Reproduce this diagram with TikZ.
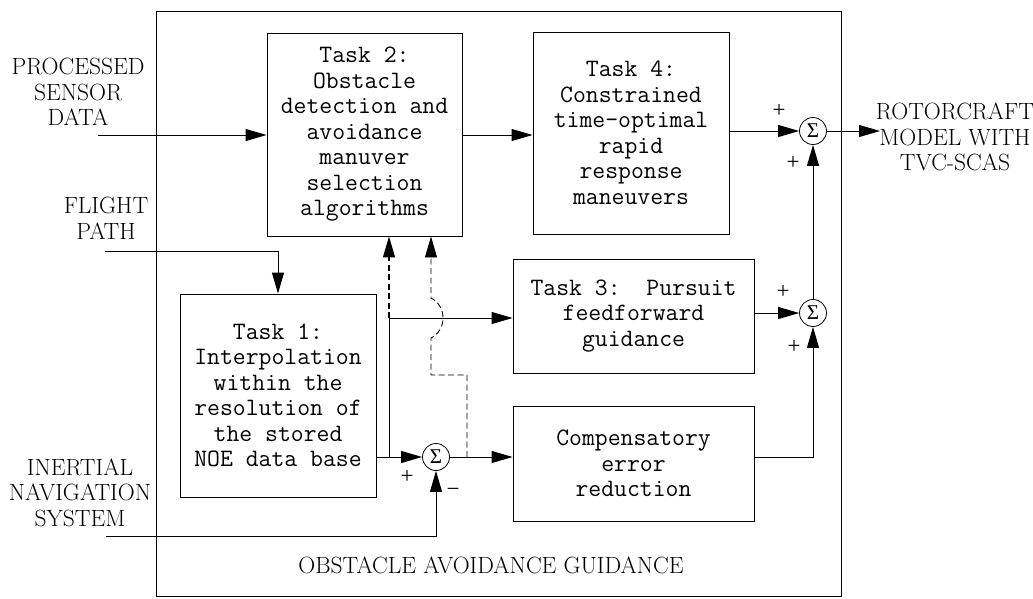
\documentclass[tikz,border=0pt]{standalone}
\usepackage{fontspec}
\newfontfamily\opfont{Liberation Serif}
\usetikzlibrary{arrows.meta}
\begin{document}
\begin{tikzpicture}[x=1pt,y=-1pt,
  box/.style={draw, line width=0.9pt, inner sep=0pt, align=center,
    font=\fontsize{25}{25.5}\selectfont\ttfamily},
  lbl/.style={align=center, inner sep=0pt, font=\fontsize{23.5}{25.5}\selectfont},
  sumnode/.style={draw, circle, minimum size=27pt, inner sep=0pt, line width=0.8pt,
    font=\opfont\fontsize{21}{21}\selectfont},
  sgn/.style={inner sep=0pt, font=\opfont\fontsize{23}{23}\selectfont},
  wire/.style={line width=0.9pt},
  feed/.style={wire, -{Triangle[length=21pt,width=12pt]}},
  dashfeed/.style={feed, dash pattern=on 6pt off 3.5pt},
]
\useasboundingbox (0,0) rectangle (1033,598);

% outer guidance frame
\draw[line width=0.9pt] (156,11) rectangle (841,596);
\node[lbl] (title) at (491,565) {OBSTACLE AVOIDANCE GUIDANCE};

% task blocks
\node[box, minimum width=195pt, minimum height=203pt] (t2) at (364.5,134.5)
  {Task 2:\\Obstacle\\detection and\\avoidance\\manuver\\selection\\algorithms};
\node[box, minimum width=196pt, minimum height=202pt] (t4) at (631,133)
  {Task 4:\\Constrained\\time-optimal\\rapid\\response\\maneuvers};
\node[box, minimum width=196pt, minimum height=203pt] (t1) at (278,395.5)
  {Task 1:\\Interpolation\\within the\\resolution of\\the stored\\NOE data base};
\node[box, minimum width=241pt, minimum height=114pt] (t3) at (633.5,316)
  {Task 3:~~Pursuit\\feedforward\\guidance};
\node[box, minimum width=241pt, minimum height=115pt] (comp) at (633.5,463.5)
  {Compensatory\\error\\reduction};

% summing junctions
\node[sumnode] (s4) at (813,131) {Σ};
\node[sumnode] (s3) at (813,313) {Σ};
\node[sumnode] (s1) at (436,457) {Σ};

% signs
\node[sgn] (s4a) at (779,111) {+};
\node[sgn] (s4b) at (793,163) {+};
\node[sgn] (s3a) at (783,292) {+};
\node[sgn] (s3b) at (794,347) {+};
\node[sgn] (s1a) at (407,477) {+};
\node[sgn] (s1b) at (453,492) {−};

% external labels
\node[lbl] (lpsd) at (78,92) {PROCESSED\\SENSOR\\DATA};
\node[lbl] (lfp) at (106,218.5) {FLIGHT\\PATH};
\node[lbl] (lins) at (80,492.5) {INERTIAL\\NAVIGATION\\SYSTEM};
\node[lbl] (lout) at (955,137) {ROTORCRAFT\\MODEL WITH\\TVC-SCAS};

% connectors
\coordinate (psd) at (98,135);
\coordinate (fp) at (105,251);
\coordinate (ins) at (106,536);
\coordinate (out) at (880,131);
\coordinate (br) at (389,457);
\coordinate (tk) at (389,318);
\coordinate (tap) at (467,457);
\coordinate (jog) at (431,375);

\draw[feed] (psd) -- (psd -| t2.west);
\draw[feed] (t2.east |- psd) -- (t4.west |- psd);
\draw[feed] (t4.east |- s4) -- (s4.west);
\draw[feed] (s4.east) -- (out);
\draw[feed] (fp) -| (t1.north);
\draw[feed] (ins) -| (s1.south);
\draw[feed] (t1.east |- s1) -- (s1.west);
\draw[wire] (br) -- (tk);
\draw[feed] (tk) -- (tk -| t3.west);
\draw[dashfeed, line width=1.3pt] (tk) -- (tk |- t2.south);
\draw[feed] (s1.east) -- (s1 -| comp.west);
\draw[dashfeed, line width=0.9pt] (tap) |- (jog) -- (431,338)
  .. controls (447,330) and (447,306) .. (431,298) -- (jog |- t2.south);
\draw[feed] (comp.east |- s1) -| (s3.south);
\draw[feed] (t3.east |- s3) -- (s3.west);
\draw[feed] (s3.north) -- (s4.south);
\end{tikzpicture}
\end{document}
